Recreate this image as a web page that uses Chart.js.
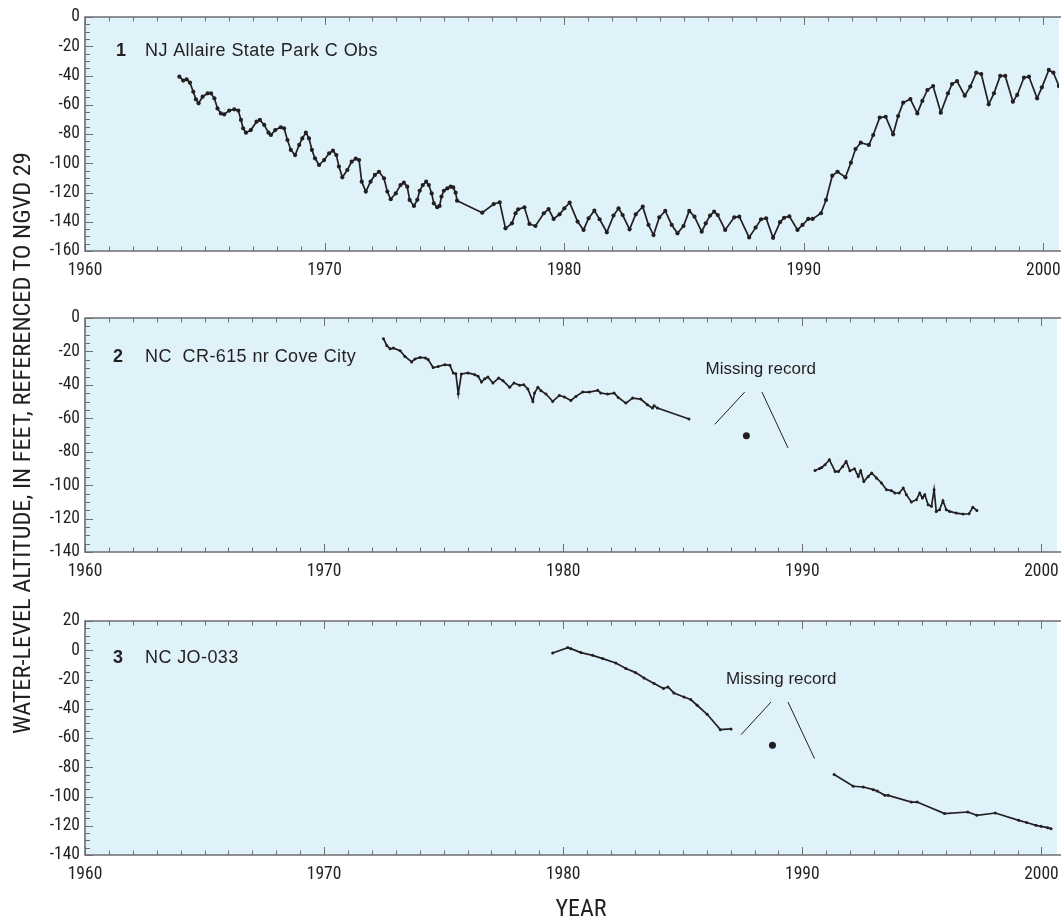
<!DOCTYPE html>
<html>
<head>
<meta charset="utf-8">
<script src="https://cdn.jsdelivr.net/npm/chart.js@4.4.0/dist/chart.umd.min.js"></script>
<style>
  html, body { margin:0; padding:0; background:#fff; width:1061px; height:921px; overflow:hidden; position:relative; }
  canvas { position:absolute; left:0; }
  #ytitle { position:absolute; left:-328px; top:428px; width:700px; height:30px; line-height:30px; text-align:center;
            transform:rotate(-90deg); white-space:nowrap; color:#231f20;
            font-family:'Roboto Condensed','DejaVu Sans Condensed',sans-serif; font-size:24.4px; }
  #xtitle { position:absolute; left:481px; top:893px; width:200px; height:30px; line-height:30px; text-align:center;
            color:#231f20; font-family:'Roboto Condensed','DejaVu Sans Condensed',sans-serif; font-size:24px; }
</style>
</head>
<body>
<canvas id="c1" width="1061" height="290" style="top:0px"></canvas>
<canvas id="c2" width="1061" height="290" style="top:301px"></canvas>
<canvas id="c3" width="1061" height="290" style="top:604px"></canvas>
<div id="ytitle">WATER-LEVEL ALTITUDE, IN FEET, REFERENCED TO NGVD 29</div>
<div id="xtitle">YEAR</div>
<script>
// ---------------- DATA ----------------
const yearTicks = [1960, 1970, 1980, 1990, 2000];
const njTicks = [0, -20, -40, -60, -80, -100, -120, -140, -160];
const cr615Ticks = [0, -20, -40, -60, -80, -100, -120, -140];
const jo033Ticks = [20, 0, -20, -40, -60, -80, -100, -120, -140];

// Panel 1: NJ Allaire State Park C Obs
const njYears = [
  1963.94,1964.10,1964.24,1964.38,1964.52,1964.63,1964.74,1964.91,1965.12,1965.26,1965.40,1965.53,1965.67,1965.81,
  1966.02,1966.23,1966.40,1966.51,1966.60,1966.72,1966.92,1967.16,1967.30,1967.48,1967.66,1967.76,1967.94,1968.17,
  1968.31,1968.45,1968.59,1968.77,1968.94,1969.07,1969.22,1969.35,1969.47,1969.60,1969.77,1969.98,1970.19,1970.35,
  1970.49,1970.60,1970.74,1970.95,1971.13,1971.30,1971.44,1971.55,1971.72,1971.92,1972.10,1972.27,1972.48,1972.62,
  1972.76,1972.97,1973.17,1973.31,1973.45,1973.55,1973.73,1973.87,1973.97,1974.10,1974.24,1974.35,1974.47,1974.56,
  1974.70,1974.80,1974.88,1974.98,1975.12,1975.26,1975.37,1975.47,1975.53,1976.58,1977.06,1977.31,1977.55,1977.82,
  1977.97,1978.08,1978.34,1978.55,1978.80,1979.15,1979.35,1979.56,1979.81,1980.01,1980.23,1980.56,1980.81,1981.02,
  1981.26,1981.48,1981.78,1982.06,1982.27,1982.44,1982.73,1982.99,1983.28,1983.52,1983.73,1983.97,1984.22,1984.49,
  1984.73,1984.98,1985.22,1985.44,1985.74,1985.91,1986.09,1986.26,1986.41,1986.72,1987.10,1987.31,1987.72,1987.99,
  1988.22,1988.43,1988.72,1989.01,1989.18,1989.40,1989.74,1989.95,1990.19,1990.37,1990.72,1990.93,1991.19,1991.41,
  1991.74,1991.97,1992.16,1992.38,1992.72,1992.90,1993.17,1993.42,1993.73,1993.94,1994.15,1994.45,1994.74,1994.95,
  1995.16,1995.40,1995.72,1996.02,1996.19,1996.40,1996.72,1996.95,1997.20,1997.41,1997.72,1997.94,1998.20,1998.41,
  1998.73,1998.91,1999.19,1999.40,1999.74,1999.94,2000.23,2000.42,2000.65
];
const njLevels = [
  -40.8,-43.5,-42.6,-44.9,-51.1,-56.3,-59.0,-54.5,-52.2,-52.2,-55.6,-62.5,-65.9,-66.6,
  -64.0,-63.1,-64.0,-70.4,-76.1,-79.1,-77.3,-71.6,-70.4,-73.8,-79.1,-80.7,-77.3,-75.4,
  -76.1,-84.1,-90.9,-94.4,-87.5,-83.0,-79.1,-83.0,-90.9,-96.6,-101.2,-97.8,-93.2,-91.4,
  -94.4,-102.3,-109.6,-104.6,-98.9,-96.9,-97.8,-112.6,-119.4,-112.6,-108.0,-105.8,-110.3,-119.4,
  -124.6,-120.6,-114.9,-113.3,-116.0,-125.1,-129.2,-125.0,-118.8,-114.9,-112.6,-114.9,-120.6,-127.4,
  -130.1,-129.2,-122.8,-118.8,-117.2,-116.0,-116.5,-120.1,-125.6,-133.8,-127.9,-126.7,-144.5,-141.1,
  -134.2,-131.5,-130.1,-141.5,-142.9,-134.2,-131.3,-138.1,-134.9,-130.8,-126.9,-139.9,-145.6,-137.6,
  -132.4,-138.3,-147.2,-135.8,-130.8,-135.4,-145.2,-134.9,-129.7,-142.2,-149.1,-137.0,-132.6,-142.2,
  -147.9,-142.9,-132.6,-136.5,-146.8,-141.1,-135.8,-133.1,-135.4,-145.6,-137.0,-136.5,-150.7,-144.0,
  -138.3,-137.6,-151.0,-140.3,-137.3,-136.3,-145.6,-142.2,-138.1,-138.1,-134.2,-125.1,-108.5,-105.8,
  -109.6,-99.6,-90.3,-85.9,-87.5,-80.7,-68.8,-68.2,-80.2,-67.7,-58.6,-56.1,-65.9,-57.4,
  -49.9,-47.2,-65.4,-52.2,-45.8,-43.8,-53.8,-47.6,-38.1,-39.0,-59.7,-52.2,-40.3,-40.3,
  -57.9,-53.3,-41.5,-40.8,-55.6,-48.1,-36.2,-38.1,-47.2
];

// Panel 2: NC CR-615 nr Cove City
const cr615YearsA = [
  1972.48,1972.62,1972.76,1972.90,1973.18,1973.38,1973.66,1973.80,1974.01,1974.24,1974.35,1974.56,1974.77,1975.05,
  1975.26,1975.40,1975.51,1975.61,1975.74,1976.02,1976.30,1976.44,1976.58,1976.72,1976.85,1977.06,1977.30,1977.48,
  1977.76,1977.94,1978.18,1978.35,1978.52,1978.73,1978.80,1978.94,1979.07,1979.28,1979.56,1979.84,1980.05,1980.32,
  1980.53,1980.81,1981.09,1981.44,1981.57,1981.85,1982.13,1982.30,1982.62,1982.90,1983.24,1983.52,1983.73,1983.80,
  1983.94,1985.26
];
const cr615LevelsA = [
  -12.4,-16.4,-18.4,-18.0,-19.6,-23.0,-26.3,-24.5,-23.6,-23.9,-24.9,-29.6,-29.0,-27.9,
  -28.3,-32.9,-33.3,-45.3,-33.5,-32.9,-33.9,-34.9,-38.3,-36.3,-35.3,-38.9,-35.9,-37.5,
  -41.5,-38.9,-40.3,-39.9,-42.5,-49.9,-44.9,-41.5,-43.5,-45.5,-49.9,-46.3,-47.3,-49.3,
  -46.9,-44.3,-44.3,-43.3,-44.9,-45.5,-44.9,-47.5,-50.9,-47.9,-48.5,-51.9,-53.9,-52.5,
  -53.9,-60.4
];
const cr615MissingYear = [1987.66];
const cr615MissingLevel = [-70.4];
const cr615YearsB = [
  1990.53,1990.72,1990.81,1990.95,1991.13,1991.37,1991.51,1991.69,1991.83,1991.99,1992.18,1992.34,1992.44,1992.57,
  1992.76,1992.90,1993.10,1993.31,1993.52,1993.73,1993.87,1994.05,1994.22,1994.35,1994.56,1994.77,1994.91,1995.02,
  1995.12,1995.26,1995.40,1995.51,1995.60,1995.74,1995.88,1996.02,1996.16,1996.44,1996.72,1996.97,1997.13,1997.30
];
const cr615LevelsB = [
  -91.2,-90.0,-89.4,-87.8,-84.8,-91.8,-91.8,-88.8,-85.8,-91.4,-90.2,-94.8,-91.4,-97.8,
  -94.8,-92.7,-95.7,-98.7,-102.7,-103.3,-104.7,-104.7,-101.7,-105.7,-110.1,-108.7,-104.7,-107.7,
  -105.7,-111.7,-112.7,-102.7,-115.7,-114.7,-109.3,-114.7,-115.7,-116.7,-117.3,-117.1,-113.3,-115.1
];

// Panel 3: NC JO-033
const jo033YearsA = [
  1979.56,1980.19,1980.32,1980.74,1981.23,1981.65,1982.20,1982.62,1983.03,1983.38,1983.80,1984.19,1984.38,1984.63,
  1985.05,1985.33,1985.60,1986.02,1986.57,1987.02
];
const jo033LevelsA = [
  -1.9,1.8,1.1,-1.6,-3.5,-5.7,-8.7,-12.5,-15.3,-19.0,-22.8,-26.2,-25.1,-29.2,
  -32.0,-33.7,-37.6,-43.8,-54.3,-53.8
];
const jo033MissingYear = [1988.75];
const jo033MissingLevel = [-65.0];
const jo033YearsB = [
  1991.33,1992.13,1992.55,1992.97,1993.13,1993.45,1993.59,1994.56,1994.80,1995.95,1996.92,1997.30,1998.07,1999.05,
  1999.38,1999.77,1999.98,2000.26,2000.40
];
const jo033LevelsB = [
  -85.0,-93.0,-93.5,-95.3,-96.2,-99.2,-99.2,-103.8,-103.8,-111.7,-110.6,-112.9,-111.3,-116.3,
  -117.8,-119.7,-120.4,-121.3,-122.0
];

// "Missing record" annotation leader lines (data units)
const cr615LeaderYears = [[1987.59, 1986.34], [1988.31, 1989.40]];
const cr615LeaderLevels = [[-44.3, -63.6], [-44.3, -77.7]];
const jo033LeaderYears = [[1988.69, 1987.44], [1989.40, 1990.51]];
const jo033LeaderLevels = [[-35.4, -57.7], [-35.4, -74.1]];

// ---------------- STYLE / HELPERS ----------------
const INK = '#231f20';
const FRAME = '#6d6e71';
const BG = '#dff2fa';
const NARROW = "'Roboto Condensed','DejaVu Sans Condensed',sans-serif";
const SANS = "'Liberation Sans',Arial,sans-serif";

function pts(xs, ys) { return xs.map((x, i) => ({ x: x, y: ys[i] })); }

function seriesDataset(xs, ys, r) {
  return { data: pts(xs, ys), borderColor: INK, backgroundColor: INK, borderWidth: 1.7,
           pointRadius: r, pointBorderWidth: 0, pointHoverRadius: r, tension: 0, fill: false };
}
function dotDataset(xs, ys) {
  return { data: pts(xs, ys), showLine: false, borderColor: INK, backgroundColor: INK,
           pointRadius: 3.5, pointBorderWidth: 0 };
}
function leaderDatasets(lx, ly) {
  return lx.map((xs, i) => ({ data: pts(xs, ly[i]), borderColor: INK, borderWidth: 1, pointRadius: 0, fill: false }));
}

const decor = {
  id: 'decor',
  beforeDraw(chart) {
    const a = chart.chartArea, ctx = chart.ctx;
    ctx.save(); ctx.fillStyle = BG; ctx.fillRect(a.left, a.top, a.right - a.left, a.bottom - a.top); ctx.restore();
  },
  afterDraw(chart, args, o) {
    const a = chart.chartArea, ctx = chart.ctx, xs = chart.scales.x, ys = chart.scales.y;
    ctx.save();
    // ticks
    ctx.strokeStyle = FRAME; ctx.lineWidth = 1;
    ctx.beginPath();
    for (let yr = 1960; yr <= xs.max; yr += 1) {
      const px = Math.round(xs.getPixelForValue(yr)) + 0.5;
      const len = (yr % 10 === 0) ? 8 : 4.5;
      ctx.moveTo(px, a.top); ctx.lineTo(px, a.top + len);
      ctx.moveTo(px, a.bottom); ctx.lineTo(px, a.bottom - len);
    }
    for (let v = ys.min; v <= ys.max; v += 5) {
      const py = Math.round(ys.getPixelForValue(v)) + 0.5;
      const len = (v % 20 === 0) ? 8 : 5;
      ctx.moveTo(a.left, py); ctx.lineTo(a.left + len, py);
    }
    ctx.stroke();
    // frame (left, top, bottom)
    ctx.lineWidth = 1.6;
    ctx.beginPath();
    ctx.moveTo(chart.width + 5, a.top); ctx.lineTo(a.left, a.top); ctx.lineTo(a.left, a.bottom); ctx.lineTo(chart.width + 5, a.bottom);
    ctx.stroke();
    // panel label
    ctx.fillStyle = INK; ctx.textBaseline = 'alphabetic'; ctx.textAlign = 'left';
    ctx.font = 'bold 18px ' + SANS;
    ctx.fillText(o.num, a.left + o.numDx, a.top + o.dy);
    ctx.font = '18px ' + SANS;
    try { ctx.letterSpacing = '0.4px'; } catch (e) {}
    ctx.fillText(o.name, a.left + 60, a.top + o.dy);
    // missing record note
    if (o.note) {
      ctx.font = '17px ' + SANS;
      try { ctx.letterSpacing = '0px'; } catch (e) {}
      ctx.textAlign = 'center';
      ctx.fillText(o.note.text, xs.getPixelForValue(o.note.x), ys.getPixelForValue(o.note.y));
    }
    ctx.restore();
  }
};

function makeChart(id, datasets, yMin, yMax, yTickVals, decorOpts) {
  return new Chart(document.getElementById(id), {
    type: 'line',
    data: { datasets: datasets },
    plugins: [decor],
    options: {
      responsive: false, animation: false, devicePixelRatio: 1,
      layout: { padding: { top: 17, left: 0, right: 0, bottom: 0 } },
      plugins: { legend: { display: false }, tooltip: { enabled: false }, decor: decorOpts },
      events: [],
      scales: {
        x: {
          type: 'linear', min: 1960, max: 2000.65,
          grid: { display: false, drawTicks: false }, border: { display: false },
          ticks: { padding: 9, color: INK, maxRotation: 0, autoSkip: false,
                   font: { family: NARROW, size: 17.5 }, callback: v => String(v) },
          afterBuildTicks: s => { s.ticks = yearTicks.map(v => ({ value: v })); },
          afterFit: s => { s.height = 39; s.paddingLeft = 0; s.paddingRight = 0; }
        },
        y: {
          type: 'linear', min: yMin, max: yMax,
          grid: { display: false, drawTicks: false }, border: { display: false },
          ticks: { padding: 5, color: INK, autoSkip: false,
                   font: { family: NARROW, size: 17.5 }, callback: v => String(v) },
          afterBuildTicks: s => { s.ticks = yTickVals.map(v => ({ value: v })); },
          afterFit: s => { s.width = 85; s.paddingTop = 0; s.paddingBottom = 0; }
        }
      }
    }
  });
}

makeChart('c1', [seriesDataset(njYears, njLevels, 2.1)], -160, 0, njTicks,
  { num: '1', numDx: 31, dy: 39, name: 'NJ Allaire State Park C Obs' });

makeChart('c2', [
    seriesDataset(cr615YearsA, cr615LevelsA, 1.5),
    dotDataset(cr615MissingYear, cr615MissingLevel),
    seriesDataset(cr615YearsB, cr615LevelsB, 1.5)
  ].concat(leaderDatasets(cr615LeaderYears, cr615LeaderLevels)),
  -140, 0, cr615Ticks,
  { num: '2', numDx: 28, dy: 43.5, name: 'NC  CR-615 nr Cove City',
    note: { text: 'Missing record', x: 1988.26, y: -33.3 } });

makeChart('c3', [
    seriesDataset(jo033YearsA, jo033LevelsA, 1.5),
    dotDataset(jo033MissingYear, jo033MissingLevel),
    seriesDataset(jo033YearsB, jo033LevelsB, 1.5)
  ].concat(leaderDatasets(jo033LeaderYears, jo033LeaderLevels)),
  -140, 20, jo033Ticks,
  { num: '3', numDx: 28, dy: 42, name: 'NC JO-033',
    note: { text: 'Missing record', x: 1989.12, y: -22.8 } });
</script>
</body>
</html>
